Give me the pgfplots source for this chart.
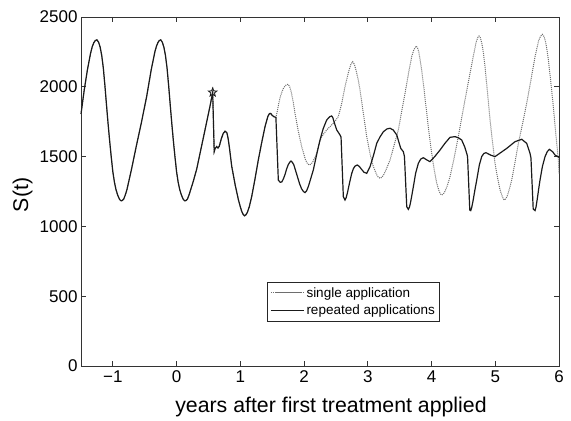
\documentclass[border=0pt]{standalone}
\usepackage{pgfplots}
\pgfplotsset{compat=1.18}
\usepackage{fontspec}
\setmainfont{Liberation Sans}

\pgfdeclareplotmark{ostar}{%
  \pgfpathmoveto{\pgfpointpolar{90}{\pgfplotmarksize}}%
  \pgfpathlineto{\pgfpointpolar{126}{0.42\pgfplotmarksize}}%
  \pgfpathlineto{\pgfpointpolar{162}{\pgfplotmarksize}}%
  \pgfpathlineto{\pgfpointpolar{198}{0.42\pgfplotmarksize}}%
  \pgfpathlineto{\pgfpointpolar{234}{\pgfplotmarksize}}%
  \pgfpathlineto{\pgfpointpolar{270}{0.42\pgfplotmarksize}}%
  \pgfpathlineto{\pgfpointpolar{306}{\pgfplotmarksize}}%
  \pgfpathlineto{\pgfpointpolar{342}{0.42\pgfplotmarksize}}%
  \pgfpathlineto{\pgfpointpolar{18}{\pgfplotmarksize}}%
  \pgfpathlineto{\pgfpointpolar{54}{0.42\pgfplotmarksize}}%
  \pgfpathclose\pgfusepathqstroke}

\definecolor{soliddark}{HTML}{1A1A1A}
\definecolor{dotgray}{HTML}{6E6E6E}

\begin{document}
\begin{tikzpicture}
\begin{axis}[
  scale only axis, width=478pt, height=349pt,
  xmin=-1.5, xmax=6, ymin=0, ymax=2500,
  xtick={-1,0,1,2,3,4,5,6},
  xticklabels={−1,0,1,2,3,4,5,6},
  ytick={0,500,1000,1500,2000,2500},
  tick pos=both, tick align=inside,
  major tick length=5pt,
  tick style={black!80, line width=0.8pt},
  axis line style={black!80, line width=0.9pt},
  /pgf/number format/assume math mode=true,
  /pgf/number format/1000 sep={},
  ticklabel style={font=\fontsize{17}{17}\selectfont},
  xticklabel style={yshift=-1.5pt},
  xlabel={years after first treatment applied},
  ylabel={S(t)},
  label style={font=\fontsize{21.3}{22}\selectfont},
  xlabel style={at={(axis description cs:0.523,-0.1175)}, anchor=center},
  ylabel style={at={(axis description cs:-0.1224,0.49)}, anchor=center},
  legend style={at={(axis description cs:0.389,0.2407)}, anchor=north west,
    font=\fontsize{13.5}{15}\selectfont, draw=black!85, line width=0.7pt,
    inner xsep=3pt, inner ysep=3pt, row sep=2pt, cells={anchor=west}},
  legend image code/.code={\path (0pt,0pt) -- (33pt,0pt); \draw[#1] (5pt,0pt) -- (30pt,0pt);},
  clip=false,
]
\path (rel axis cs:-0.16946,-0.15473) rectangle (rel axis cs:1.02510,1.04871);

\addplot[dotgray, densely dotted, line width=1pt] coordinates {
(-1.50,1805) (-1.45,1975) (-1.40,2120) (-1.35,2240) (-1.325,2285) (-1.30,2315) (-1.275,2332) (-1.25,2336)
(-1.225,2320) (-1.20,2285) (-1.175,2225) (-1.15,2135) (-1.125,2010) (-1.10,1870) (-1.075,1735) (-1.05,1610) (-1.025,1495) (-1.00,1390) (-0.975,1315) (-0.95,1262)
(-0.925,1225) (-0.90,1198) (-0.885,1188) (-0.867,1183) (-0.85,1186) (-0.83,1196) (-0.805,1225) (-0.78,1262) (-0.71,1404) (-0.63,1580)
(-0.554,1740) (-0.47,1930) (-0.397,2125) (-0.34,2252) (-0.315,2292) (-0.29,2320) (-0.27,2332) (-0.249,2336)
(-0.225,2320) (-0.20,2285) (-0.175,2225) (-0.15,2135) (-0.125,2010) (-0.10,1870) (-0.075,1735) (-0.05,1610) (-0.025,1495) (0.00,1390) (0.025,1315) (0.05,1262)
(0.075,1225) (0.10,1198) (0.115,1188) (0.132,1183) (0.15,1186) (0.17,1196) (0.195,1225) (0.22,1262) (0.26,1320) (0.315,1410)
(0.38,1550) (0.446,1692) (0.524,1861) (0.566,1960)
(0.590,1536) (0.605,1558) (0.629,1572) (0.65,1562) (0.67,1575) (0.70,1625)
(0.73,1665) (0.76,1682) (0.79,1670) (0.81,1625) (0.83,1560) (0.865,1430) (0.92,1295)
(0.97,1190) (1.00,1140) (1.02,1110) (1.045,1085) (1.065,1076) (1.085,1082) (1.11,1100) (1.14,1140) (1.178,1213) (1.23,1340)
(1.282,1476) (1.335,1600) (1.387,1714) (1.43,1785) (1.45,1803) (1.466,1810) (1.485,1805) (1.50,1795)
(1.53,1785) (1.558,1781)
(1.58,1825) (1.60,1875) (1.625,1925) (1.65,1960) (1.675,1988) (1.70,2005) (1.725,2015) (1.75,2018) (1.775,2000) (1.80,1960) (1.83,1890) (1.858,1810)
(1.91,1680) (1.963,1571) (2.02,1480) (2.05,1452) (2.082,1440) (2.11,1446) (2.14,1465) (2.198,1523)
(2.24,1600) (2.277,1643) (2.355,1691) (2.459,1738) (2.537,1786) (2.59,1880)
(2.642,2001) (2.70,2110) (2.735,2162) (2.763,2180) (2.79,2160) (2.82,2110) (2.85,2050) (2.878,1977) (2.93,1810)
(2.983,1643) (3.035,1520) (3.087,1428) (3.14,1370) (3.165,1352) (3.192,1345) (3.22,1352) (3.25,1370)
(3.30,1420) (3.349,1476) (3.40,1560) (3.479,1691) (3.53,1820) (3.584,1953)
(3.64,2100) (3.689,2216) (3.72,2262) (3.757,2292) (3.78,2280) (3.80,2250) (3.846,2120) (3.885,1970)
(3.925,1810) (3.963,1660) (4.003,1523) (4.04,1410) (4.082,1309) (4.12,1250) (4.14,1232)
(4.160,1225) (4.185,1232) (4.21,1250) (4.25,1295) (4.29,1356) (4.35,1480) (4.42,1643) (4.47,1770)
(4.525,1906) (4.604,2097) (4.66,2230) (4.70,2320) (4.725,2352) (4.745,2364) (4.765,2352) (4.79,2310)
(4.815,2240) (4.839,2144) (4.88,1950) (4.918,1762) (4.96,1590) (4.996,1452) (5.035,1350)
(5.075,1261) (5.11,1215) (5.125,1198) (5.142,1189) (5.165,1198) (5.19,1220) (5.22,1265) (5.258,1332) (5.31,1460)
(5.362,1595) (5.43,1740) (5.493,1882) (5.56,2050) (5.624,2216) (5.68,2330) (5.71,2362)
(5.738,2376) (5.765,2360) (5.79,2320) (5.81,2270) (5.833,2192) (5.87,2040) (5.911,1858) (5.95,1660)
(5.99,1476) (6.00,1380)
};
\addlegendentry{single application}

\addplot[soliddark, line width=1.2pt] coordinates {
(-1.50,1805) (-1.45,1975) (-1.40,2120) (-1.35,2240) (-1.325,2285) (-1.30,2315) (-1.275,2332) (-1.25,2336)
(-1.225,2320) (-1.20,2285) (-1.175,2225) (-1.15,2135) (-1.125,2010) (-1.10,1870) (-1.075,1735) (-1.05,1610) (-1.025,1495) (-1.00,1390) (-0.975,1315) (-0.95,1262)
(-0.925,1225) (-0.90,1198) (-0.885,1188) (-0.867,1183) (-0.85,1186) (-0.83,1196) (-0.805,1225) (-0.78,1262) (-0.71,1404) (-0.63,1580)
(-0.554,1740) (-0.47,1930) (-0.397,2125) (-0.34,2252) (-0.315,2292) (-0.29,2320) (-0.27,2332) (-0.249,2336)
(-0.225,2320) (-0.20,2285) (-0.175,2225) (-0.15,2135) (-0.125,2010) (-0.10,1870) (-0.075,1735) (-0.05,1610) (-0.025,1495) (0.00,1390) (0.025,1315) (0.05,1262)
(0.075,1225) (0.10,1198) (0.115,1188) (0.132,1183) (0.15,1186) (0.17,1196) (0.195,1225) (0.22,1262) (0.26,1320) (0.315,1410)
(0.38,1550) (0.446,1692) (0.524,1861) (0.566,1960)
(0.590,1536) (0.605,1558) (0.629,1572) (0.65,1562) (0.67,1575) (0.70,1625)
(0.73,1665) (0.76,1682) (0.79,1670) (0.81,1625) (0.83,1560) (0.865,1430) (0.92,1295)
(0.97,1190) (1.00,1140) (1.02,1110) (1.045,1085) (1.065,1076) (1.085,1082) (1.11,1100) (1.14,1140) (1.178,1213) (1.23,1340)
(1.282,1476) (1.335,1600) (1.387,1714) (1.43,1785) (1.45,1803) (1.466,1810) (1.485,1805) (1.50,1795)
(1.53,1785) (1.558,1781)
(1.596,1332) (1.625,1316) (1.65,1318) (1.675,1340) (1.70,1370) (1.725,1410) (1.75,1440) (1.775,1460) (1.795,1468) (1.815,1460)
(1.84,1440) (1.87,1395) (1.90,1350) (1.93,1305) (1.96,1270) (1.99,1250) (2.015,1242) (2.04,1255) (2.07,1290) (2.145,1404)
(2.20,1520) (2.25,1619) (2.30,1700) (2.355,1762) (2.40,1785) (2.433,1791) (2.45,1780)
(2.47,1750) (2.512,1691) (2.564,1655) (2.58,1640) (2.616,1213) (2.642,1189)
(2.66,1205) (2.68,1240) (2.715,1315) (2.748,1380) (2.775,1415) (2.80,1432) (2.836,1440) (2.87,1428) (2.90,1410) (2.94,1388) (2.983,1380)
(3.035,1428) (3.09,1510) (3.14,1595) (3.19,1640) (3.244,1678) (3.30,1698)
(3.349,1703) (3.40,1690) (3.454,1655) (3.49,1600) (3.517,1559) (3.558,1535) (3.575,1500)
(3.611,1141) (3.636,1122) (3.655,1140) (3.67,1170) (3.69,1220) (3.715,1285) (3.75,1380) (3.793,1452) (3.83,1482) (3.871,1492)
(3.93,1475) (3.976,1464) (4.05,1500) (4.133,1547) (4.21,1595) (4.29,1638)
(4.369,1643) (4.42,1635) (4.473,1619) (4.52,1570) (4.552,1523) (4.565,1500)
(4.600,1117) (4.615,1113) (4.63,1135) (4.65,1180) (4.68,1260) (4.709,1332) (4.75,1440) (4.787,1500) (4.82,1522) (4.855,1528)
(4.93,1510) (4.996,1500) (5.09,1530) (5.18,1559) (5.31,1607) (5.415,1624)
(5.493,1595) (5.545,1523) (5.56,1490) (5.595,1125) (5.624,1113) (5.64,1140) (5.66,1200) (5.68,1265)
(5.702,1332) (5.74,1430) (5.781,1500) (5.815,1535) (5.849,1552) (5.90,1535) (5.938,1511) (6.00,1495)
};
\addlegendentry{repeated applications}

\addplot[only marks, mark=ostar, mark size=4.5pt, mark options={soliddark, line width=0.8pt}, forget plot] coordinates {(0.566,1960)};
\end{axis}
\end{tikzpicture}
\end{document}
